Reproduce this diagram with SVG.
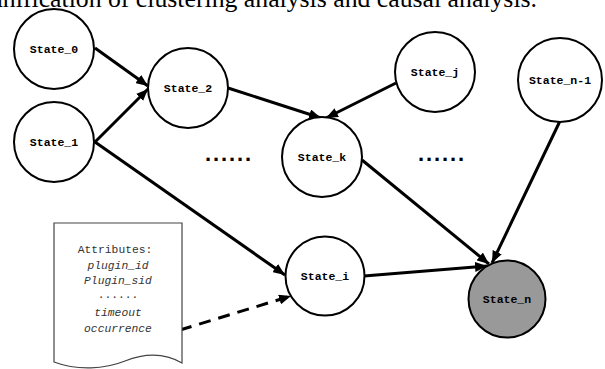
<svg xmlns="http://www.w3.org/2000/svg" width="605" height="369" viewBox="0 0 605 369">
  <style>
    .state circle { fill: #fff; stroke: #000; stroke-width: 2; }
    .final circle { fill: #999; }
    .state text { font-family: "Liberation Mono", "DejaVu Sans Mono", monospace; font-size: 11.5px; font-weight: bold; text-anchor: middle; fill: #000; }
    .edge { stroke: #000; stroke-width: 3; fill: none; marker-end: url(#arrow); }
    .dashed { stroke-dasharray: 12 8; }
    .dots { font-family: "Liberation Sans", Arial, sans-serif; font-size: 22px; font-weight: bold; letter-spacing: 1.9px; fill: #000; }
    .doc path { fill: #fff; stroke: #444; stroke-width: 1.2; }
    .doc text { font-family: "Liberation Mono", "DejaVu Sans Mono", monospace; font-size: 11.3px; fill: #333; text-anchor: middle; }
    .doc .attr { font-style: italic; }
    .caption { font-family: "Liberation Serif", "Times New Roman", serif; font-size: 25px; fill: #000; }
  </style>
  <defs>
    <marker id="arrow" viewBox="0 0 12 10" refX="12" refY="5" markerWidth="12" markerHeight="10" markerUnits="userSpaceOnUse" orient="auto">
      <path d="M0,0 L12,5 L0,10 Z" fill="#000"/>
    </marker>
  </defs>

  <rect width="605" height="369" fill="#fff"/>

  <!-- caption line running off the top edge -->
  <text class="caption" x="-10" y="7" textLength="547" lengthAdjust="spacingAndGlyphs">unification of clustering analysis and causal analysis.</text>

  <!-- connectors -->
  <g id="connectors">
    <line class="edge" x1="95" y1="48" x2="148" y2="86"/>
    <line class="edge" x1="95" y1="142" x2="148" y2="89"/>
    <line class="edge" x1="95" y1="142" x2="285" y2="275"/>
    <line class="edge" x1="228" y1="88" x2="321" y2="118"/>
    <line class="edge" x1="396" y1="83" x2="326" y2="118"/>
    <line class="edge" x1="362" y1="160" x2="489" y2="264"/>
    <line class="edge" x1="560" y1="121" x2="492" y2="263"/>
    <line class="edge" x1="364" y1="276" x2="487" y2="266"/>
    <line class="edge dashed" x1="180" y1="330" x2="291" y2="296"/>
  </g>

  <!-- elided states -->
  <text class="dots" x="205" y="161">......</text>
  <text class="dots" x="418" y="161">......</text>

  <!-- states -->
  <g id="state_0" class="state"><circle cx="54" cy="49" r="40"/><text x="54" y="53">State_0</text></g>
  <g id="state_1" class="state"><circle cx="54" cy="142" r="40"/><text x="54" y="146">State_1</text></g>
  <g id="state_2" class="state"><circle cx="188" cy="88" r="40"/><text x="188" y="92">State_2</text></g>
  <g id="state_k" class="state"><circle cx="322" cy="157" r="40"/><text x="322" y="161">State_k</text></g>
  <g id="state_j" class="state"><circle cx="435" cy="72" r="40"/><text x="435" y="76">State_j</text></g>
  <g id="state_n-1" class="state"><circle cx="560" cy="80" r="42"/><text x="560" y="84">State_n-1</text></g>
  <g id="state_i" class="state"><circle cx="325" cy="276" r="39.5"/><text x="325" y="280">State_i</text></g>
  <g id="state_n" class="state final"><circle cx="507" cy="299" r="38.5"/><text x="507" y="303">State_n</text></g>

  <!-- attribute document -->
  <g id="attributes" class="doc">
    <path d="M54,223 H182 V363 C165,353 145,353 125,361 C105,369 78,371 54,362 Z"/>
    <text x="115" y="253">Attributes:</text>
    <text class="attr" x="118" y="269">plugin_id</text>
    <text class="attr" x="118" y="284">Plugin_sid</text>
    <text x="118" y="298">......</text>
    <text class="attr" x="118" y="316">timeout</text>
    <text class="attr" x="118" y="332">occurrence</text>
  </g>
</svg>
